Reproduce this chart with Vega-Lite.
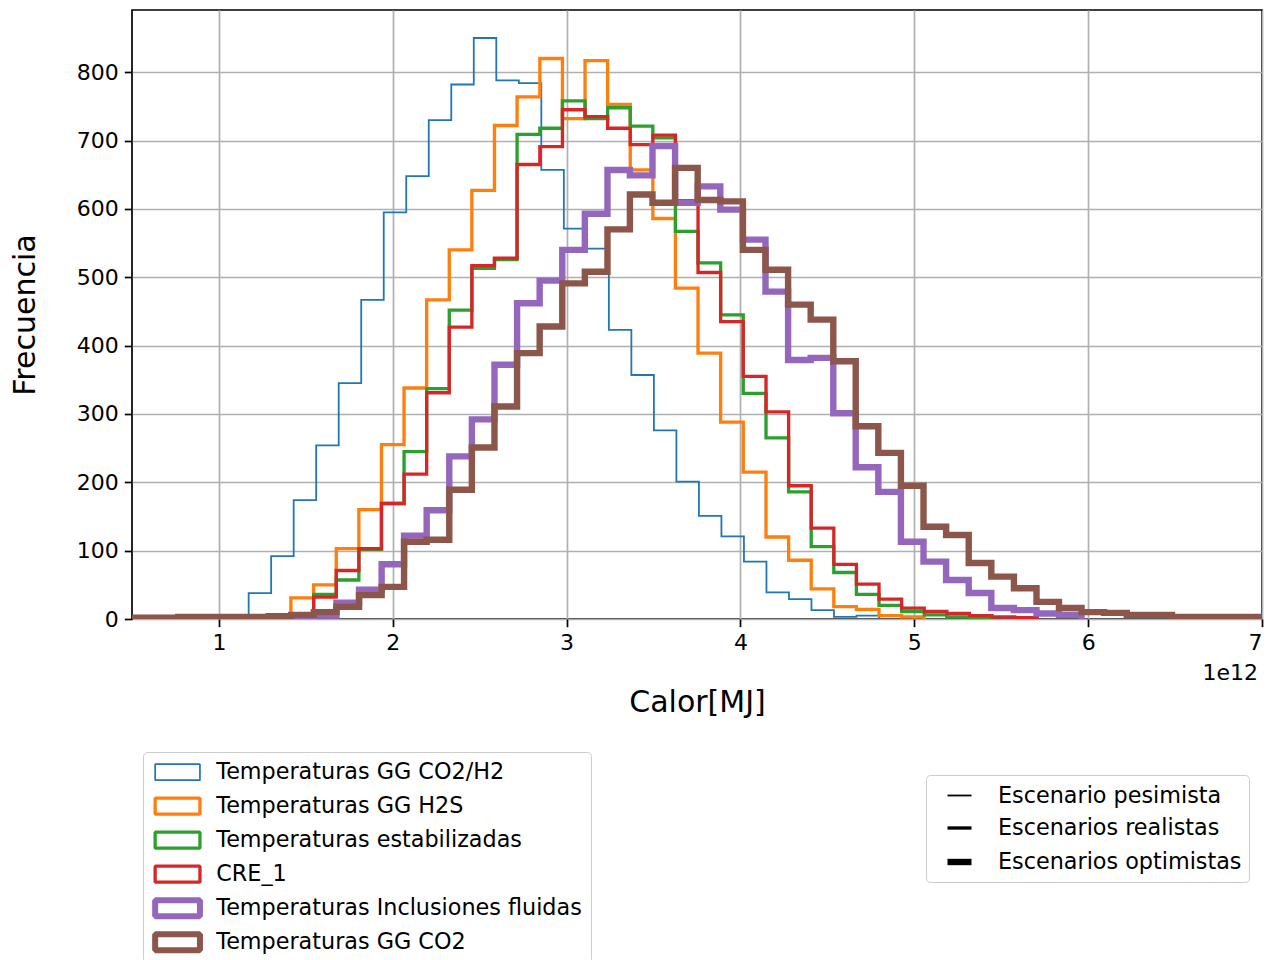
{
  "$schema": "https://vega.github.io/schema/vega-lite/v6.json",
  "width": 1130,
  "height": 609,
  "autosize": {"type": "none"},
  "padding": {"left": 132, "top": 10, "right": 14, "bottom": 341},
  "background": "white",
  "config": {
    "font": "DejaVu Sans",
    "view": {"stroke": "#000000", "strokeWidth": 1.7},
    "axis": {
      "labelFont": "DejaVu Sans", "labelFontSize": 22, "labelColor": "#000000",
      "tickColor": "#000000", "tickSize": 7.7, "tickWidth": 1.7, "labelPadding": 6,
      "domain": false, "grid": true, "gridColor": "#b0b0b0", "gridWidth": 1.7,
      "titleFont": "DejaVu Sans", "titleFontSize": 30, "titleFontWeight": "normal", "titleColor": "#000000"
    },
    "legend": {"labelFont": "DejaVu Sans", "labelColor": "#000000"}
  },
  "datasets": {
    "escenarios": [
      {"serie": "Temperaturas GG CO2/H2", "escenario": "Escenario pesimista"},
      {"serie": "Temperaturas GG H2S", "escenario": "Escenarios realistas"},
      {"serie": "Temperaturas estabilizadas", "escenario": "Escenarios realistas"},
      {"serie": "CRE_1", "escenario": "Escenarios realistas"},
      {"serie": "Temperaturas Inclusiones fluidas", "escenario": "Escenarios optimistas"},
      {"serie": "Temperaturas GG CO2", "escenario": "Escenarios optimistas"}
    ]
  },
  "layer": [
    {
      "data": {"values": [
        {"serie": "Temperaturas GG CO2/H2", "calor": 1.171, "frecuencia": 0},
        {"serie": "Temperaturas GG CO2/H2", "calor": 1.171, "frecuencia": 38},
        {"serie": "Temperaturas GG CO2/H2", "calor": 1.3005, "frecuencia": 92},
        {"serie": "Temperaturas GG CO2/H2", "calor": 1.43, "frecuencia": 174},
        {"serie": "Temperaturas GG CO2/H2", "calor": 1.5595, "frecuencia": 254},
        {"serie": "Temperaturas GG CO2/H2", "calor": 1.689, "frecuencia": 345},
        {"serie": "Temperaturas GG CO2/H2", "calor": 1.8185, "frecuencia": 467},
        {"serie": "Temperaturas GG CO2/H2", "calor": 1.948, "frecuencia": 595},
        {"serie": "Temperaturas GG CO2/H2", "calor": 2.0775, "frecuencia": 648},
        {"serie": "Temperaturas GG CO2/H2", "calor": 2.207, "frecuencia": 730},
        {"serie": "Temperaturas GG CO2/H2", "calor": 2.3365, "frecuencia": 782},
        {"serie": "Temperaturas GG CO2/H2", "calor": 2.466, "frecuencia": 850},
        {"serie": "Temperaturas GG CO2/H2", "calor": 2.5955, "frecuencia": 788},
        {"serie": "Temperaturas GG CO2/H2", "calor": 2.725, "frecuencia": 784},
        {"serie": "Temperaturas GG CO2/H2", "calor": 2.8545, "frecuencia": 657},
        {"serie": "Temperaturas GG CO2/H2", "calor": 2.984, "frecuencia": 571},
        {"serie": "Temperaturas GG CO2/H2", "calor": 3.1135, "frecuencia": 542},
        {"serie": "Temperaturas GG CO2/H2", "calor": 3.243, "frecuencia": 423},
        {"serie": "Temperaturas GG CO2/H2", "calor": 3.3725, "frecuencia": 357},
        {"serie": "Temperaturas GG CO2/H2", "calor": 3.502, "frecuencia": 276},
        {"serie": "Temperaturas GG CO2/H2", "calor": 3.6315, "frecuencia": 201},
        {"serie": "Temperaturas GG CO2/H2", "calor": 3.761, "frecuencia": 151},
        {"serie": "Temperaturas GG CO2/H2", "calor": 3.8905, "frecuencia": 121},
        {"serie": "Temperaturas GG CO2/H2", "calor": 4.02, "frecuencia": 84},
        {"serie": "Temperaturas GG CO2/H2", "calor": 4.1495, "frecuencia": 39},
        {"serie": "Temperaturas GG CO2/H2", "calor": 4.279, "frecuencia": 29},
        {"serie": "Temperaturas GG CO2/H2", "calor": 4.4085, "frecuencia": 13},
        {"serie": "Temperaturas GG CO2/H2", "calor": 4.538, "frecuencia": 3},
        {"serie": "Temperaturas GG CO2/H2", "calor": 4.6675, "frecuencia": 5},
        {"serie": "Temperaturas GG CO2/H2", "calor": 4.797, "frecuencia": 0},

        {"serie": "Temperaturas GG H2S", "calor": 1.414, "frecuencia": 0},
        {"serie": "Temperaturas GG H2S", "calor": 1.414, "frecuencia": 31},
        {"serie": "Temperaturas GG H2S", "calor": 1.545, "frecuencia": 50},
        {"serie": "Temperaturas GG H2S", "calor": 1.675, "frecuencia": 103},
        {"serie": "Temperaturas GG H2S", "calor": 1.805, "frecuencia": 160},
        {"serie": "Temperaturas GG H2S", "calor": 1.935, "frecuencia": 255},
        {"serie": "Temperaturas GG H2S", "calor": 2.065, "frecuencia": 338},
        {"serie": "Temperaturas GG H2S", "calor": 2.195, "frecuencia": 467},
        {"serie": "Temperaturas GG H2S", "calor": 2.325, "frecuencia": 540},
        {"serie": "Temperaturas GG H2S", "calor": 2.455, "frecuencia": 627},
        {"serie": "Temperaturas GG H2S", "calor": 2.585, "frecuencia": 722},
        {"serie": "Temperaturas GG H2S", "calor": 2.715, "frecuencia": 764},
        {"serie": "Temperaturas GG H2S", "calor": 2.846, "frecuencia": 820},
        {"serie": "Temperaturas GG H2S", "calor": 2.976, "frecuencia": 732},
        {"serie": "Temperaturas GG H2S", "calor": 3.106, "frecuencia": 817},
        {"serie": "Temperaturas GG H2S", "calor": 3.236, "frecuencia": 753},
        {"serie": "Temperaturas GG H2S", "calor": 3.366, "frecuencia": 657},
        {"serie": "Temperaturas GG H2S", "calor": 3.496, "frecuencia": 586},
        {"serie": "Temperaturas GG H2S", "calor": 3.626, "frecuencia": 484},
        {"serie": "Temperaturas GG H2S", "calor": 3.756, "frecuencia": 389},
        {"serie": "Temperaturas GG H2S", "calor": 3.886, "frecuencia": 288},
        {"serie": "Temperaturas GG H2S", "calor": 4.016, "frecuencia": 215},
        {"serie": "Temperaturas GG H2S", "calor": 4.147, "frecuencia": 120},
        {"serie": "Temperaturas GG H2S", "calor": 4.277, "frecuencia": 86},
        {"serie": "Temperaturas GG H2S", "calor": 4.407, "frecuencia": 44},
        {"serie": "Temperaturas GG H2S", "calor": 4.537, "frecuencia": 18},
        {"serie": "Temperaturas GG H2S", "calor": 4.667, "frecuencia": 14},
        {"serie": "Temperaturas GG H2S", "calor": 4.797, "frecuencia": 5},
        {"serie": "Temperaturas GG H2S", "calor": 4.927, "frecuencia": 3},
        {"serie": "Temperaturas GG H2S", "calor": 5.057, "frecuencia": 0},

        {"serie": "Temperaturas estabilizadas", "calor": 1.414, "frecuencia": 0},
        {"serie": "Temperaturas estabilizadas", "calor": 1.414, "frecuencia": 5},
        {"serie": "Temperaturas estabilizadas", "calor": 1.545, "frecuencia": 36},
        {"serie": "Temperaturas estabilizadas", "calor": 1.675, "frecuencia": 57},
        {"serie": "Temperaturas estabilizadas", "calor": 1.805, "frecuencia": 102},
        {"serie": "Temperaturas estabilizadas", "calor": 1.935, "frecuencia": 169},
        {"serie": "Temperaturas estabilizadas", "calor": 2.065, "frecuencia": 245},
        {"serie": "Temperaturas estabilizadas", "calor": 2.195, "frecuencia": 337},
        {"serie": "Temperaturas estabilizadas", "calor": 2.325, "frecuencia": 452},
        {"serie": "Temperaturas estabilizadas", "calor": 2.455, "frecuencia": 513},
        {"serie": "Temperaturas estabilizadas", "calor": 2.585, "frecuencia": 526},
        {"serie": "Temperaturas estabilizadas", "calor": 2.715, "frecuencia": 709},
        {"serie": "Temperaturas estabilizadas", "calor": 2.846, "frecuencia": 718},
        {"serie": "Temperaturas estabilizadas", "calor": 2.976, "frecuencia": 758},
        {"serie": "Temperaturas estabilizadas", "calor": 3.106, "frecuencia": 732},
        {"serie": "Temperaturas estabilizadas", "calor": 3.236, "frecuencia": 748},
        {"serie": "Temperaturas estabilizadas", "calor": 3.366, "frecuencia": 721},
        {"serie": "Temperaturas estabilizadas", "calor": 3.496, "frecuencia": 704},
        {"serie": "Temperaturas estabilizadas", "calor": 3.626, "frecuencia": 567},
        {"serie": "Temperaturas estabilizadas", "calor": 3.756, "frecuencia": 521},
        {"serie": "Temperaturas estabilizadas", "calor": 3.886, "frecuencia": 445},
        {"serie": "Temperaturas estabilizadas", "calor": 4.016, "frecuencia": 330},
        {"serie": "Temperaturas estabilizadas", "calor": 4.147, "frecuencia": 265},
        {"serie": "Temperaturas estabilizadas", "calor": 4.277, "frecuencia": 186},
        {"serie": "Temperaturas estabilizadas", "calor": 4.407, "frecuencia": 106},
        {"serie": "Temperaturas estabilizadas", "calor": 4.537, "frecuencia": 68},
        {"serie": "Temperaturas estabilizadas", "calor": 4.667, "frecuencia": 36},
        {"serie": "Temperaturas estabilizadas", "calor": 4.797, "frecuencia": 20},
        {"serie": "Temperaturas estabilizadas", "calor": 4.927, "frecuencia": 11},
        {"serie": "Temperaturas estabilizadas", "calor": 5.057, "frecuencia": 6},
        {"serie": "Temperaturas estabilizadas", "calor": 5.187, "frecuencia": 3},
        {"serie": "Temperaturas estabilizadas", "calor": 5.317, "frecuencia": 1},
        {"serie": "Temperaturas estabilizadas", "calor": 5.447, "frecuencia": 0},

        {"serie": "CRE_1", "calor": 1.414, "frecuencia": 0},
        {"serie": "CRE_1", "calor": 1.414, "frecuencia": 4},
        {"serie": "CRE_1", "calor": 1.545, "frecuencia": 32},
        {"serie": "CRE_1", "calor": 1.675, "frecuencia": 71},
        {"serie": "CRE_1", "calor": 1.805, "frecuencia": 103},
        {"serie": "CRE_1", "calor": 1.935, "frecuencia": 169},
        {"serie": "CRE_1", "calor": 2.065, "frecuencia": 212},
        {"serie": "CRE_1", "calor": 2.195, "frecuencia": 331},
        {"serie": "CRE_1", "calor": 2.325, "frecuencia": 427},
        {"serie": "CRE_1", "calor": 2.455, "frecuencia": 517},
        {"serie": "CRE_1", "calor": 2.585, "frecuencia": 528},
        {"serie": "CRE_1", "calor": 2.715, "frecuencia": 665},
        {"serie": "CRE_1", "calor": 2.846, "frecuencia": 691},
        {"serie": "CRE_1", "calor": 2.976, "frecuencia": 745},
        {"serie": "CRE_1", "calor": 3.106, "frecuencia": 735},
        {"serie": "CRE_1", "calor": 3.236, "frecuencia": 718},
        {"serie": "CRE_1", "calor": 3.366, "frecuencia": 694},
        {"serie": "CRE_1", "calor": 3.496, "frecuencia": 708},
        {"serie": "CRE_1", "calor": 3.626, "frecuencia": 612},
        {"serie": "CRE_1", "calor": 3.756, "frecuencia": 507},
        {"serie": "CRE_1", "calor": 3.886, "frecuencia": 435},
        {"serie": "CRE_1", "calor": 4.016, "frecuencia": 355},
        {"serie": "CRE_1", "calor": 4.147, "frecuencia": 303},
        {"serie": "CRE_1", "calor": 4.277, "frecuencia": 195},
        {"serie": "CRE_1", "calor": 4.407, "frecuencia": 133},
        {"serie": "CRE_1", "calor": 4.537, "frecuencia": 80},
        {"serie": "CRE_1", "calor": 4.667, "frecuencia": 51},
        {"serie": "CRE_1", "calor": 4.797, "frecuencia": 29},
        {"serie": "CRE_1", "calor": 4.927, "frecuencia": 16},
        {"serie": "CRE_1", "calor": 5.057, "frecuencia": 11},
        {"serie": "CRE_1", "calor": 5.187, "frecuencia": 8},
        {"serie": "CRE_1", "calor": 5.317, "frecuencia": 5},
        {"serie": "CRE_1", "calor": 5.447, "frecuencia": 3},
        {"serie": "CRE_1", "calor": 5.578, "frecuencia": 2},
        {"serie": "CRE_1", "calor": 5.708, "frecuencia": 0},

        {"serie": "Temperaturas Inclusiones fluidas", "calor": 1.416, "frecuencia": 0},
        {"serie": "Temperaturas Inclusiones fluidas", "calor": 1.416, "frecuencia": 2},
        {"serie": "Temperaturas Inclusiones fluidas", "calor": 1.546, "frecuencia": 5},
        {"serie": "Temperaturas Inclusiones fluidas", "calor": 1.676, "frecuencia": 24},
        {"serie": "Temperaturas Inclusiones fluidas", "calor": 1.806, "frecuencia": 43},
        {"serie": "Temperaturas Inclusiones fluidas", "calor": 1.936, "frecuencia": 80},
        {"serie": "Temperaturas Inclusiones fluidas", "calor": 2.065, "frecuencia": 122},
        {"serie": "Temperaturas Inclusiones fluidas", "calor": 2.195, "frecuencia": 159},
        {"serie": "Temperaturas Inclusiones fluidas", "calor": 2.325, "frecuencia": 238},
        {"serie": "Temperaturas Inclusiones fluidas", "calor": 2.455, "frecuencia": 292},
        {"serie": "Temperaturas Inclusiones fluidas", "calor": 2.585, "frecuencia": 372},
        {"serie": "Temperaturas Inclusiones fluidas", "calor": 2.715, "frecuencia": 462},
        {"serie": "Temperaturas Inclusiones fluidas", "calor": 2.845, "frecuencia": 495},
        {"serie": "Temperaturas Inclusiones fluidas", "calor": 2.975, "frecuencia": 540},
        {"serie": "Temperaturas Inclusiones fluidas", "calor": 3.105, "frecuencia": 593},
        {"serie": "Temperaturas Inclusiones fluidas", "calor": 3.235, "frecuencia": 657},
        {"serie": "Temperaturas Inclusiones fluidas", "calor": 3.364, "frecuencia": 649},
        {"serie": "Temperaturas Inclusiones fluidas", "calor": 3.494, "frecuencia": 692},
        {"serie": "Temperaturas Inclusiones fluidas", "calor": 3.624, "frecuencia": 609},
        {"serie": "Temperaturas Inclusiones fluidas", "calor": 3.754, "frecuencia": 633},
        {"serie": "Temperaturas Inclusiones fluidas", "calor": 3.884, "frecuencia": 599},
        {"serie": "Temperaturas Inclusiones fluidas", "calor": 4.014, "frecuencia": 555},
        {"serie": "Temperaturas Inclusiones fluidas", "calor": 4.144, "frecuencia": 479},
        {"serie": "Temperaturas Inclusiones fluidas", "calor": 4.274, "frecuencia": 379},
        {"serie": "Temperaturas Inclusiones fluidas", "calor": 4.404, "frecuencia": 382},
        {"serie": "Temperaturas Inclusiones fluidas", "calor": 4.534, "frecuencia": 301},
        {"serie": "Temperaturas Inclusiones fluidas", "calor": 4.663, "frecuencia": 222},
        {"serie": "Temperaturas Inclusiones fluidas", "calor": 4.793, "frecuencia": 186},
        {"serie": "Temperaturas Inclusiones fluidas", "calor": 4.923, "frecuencia": 113},
        {"serie": "Temperaturas Inclusiones fluidas", "calor": 5.053, "frecuencia": 84},
        {"serie": "Temperaturas Inclusiones fluidas", "calor": 5.183, "frecuencia": 57},
        {"serie": "Temperaturas Inclusiones fluidas", "calor": 5.313, "frecuencia": 38},
        {"serie": "Temperaturas Inclusiones fluidas", "calor": 5.443, "frecuencia": 16},
        {"serie": "Temperaturas Inclusiones fluidas", "calor": 5.573, "frecuencia": 13},
        {"serie": "Temperaturas Inclusiones fluidas", "calor": 5.703, "frecuencia": 8},
        {"serie": "Temperaturas Inclusiones fluidas", "calor": 5.832, "frecuencia": 6},
        {"serie": "Temperaturas Inclusiones fluidas", "calor": 5.962, "frecuencia": 0},

        {"serie": "Temperaturas GG CO2", "calor": 0.377, "frecuencia": 0},
        {"serie": "Temperaturas GG CO2", "calor": 0.377, "frecuencia": 2},
        {"serie": "Temperaturas GG CO2", "calor": 0.507, "frecuencia": 2},
        {"serie": "Temperaturas GG CO2", "calor": 0.637, "frecuencia": 2},
        {"serie": "Temperaturas GG CO2", "calor": 0.766, "frecuencia": 3},
        {"serie": "Temperaturas GG CO2", "calor": 0.896, "frecuencia": 3},
        {"serie": "Temperaturas GG CO2", "calor": 1.026, "frecuencia": 3},
        {"serie": "Temperaturas GG CO2", "calor": 1.156, "frecuencia": 3},
        {"serie": "Temperaturas GG CO2", "calor": 1.286, "frecuencia": 4},
        {"serie": "Temperaturas GG CO2", "calor": 1.416, "frecuencia": 6},
        {"serie": "Temperaturas GG CO2", "calor": 1.546, "frecuencia": 10},
        {"serie": "Temperaturas GG CO2", "calor": 1.676, "frecuencia": 18},
        {"serie": "Temperaturas GG CO2", "calor": 1.806, "frecuencia": 35},
        {"serie": "Temperaturas GG CO2", "calor": 1.936, "frecuencia": 47},
        {"serie": "Temperaturas GG CO2", "calor": 2.065, "frecuencia": 113},
        {"serie": "Temperaturas GG CO2", "calor": 2.195, "frecuencia": 116},
        {"serie": "Temperaturas GG CO2", "calor": 2.325, "frecuencia": 189},
        {"serie": "Temperaturas GG CO2", "calor": 2.455, "frecuencia": 251},
        {"serie": "Temperaturas GG CO2", "calor": 2.585, "frecuencia": 311},
        {"serie": "Temperaturas GG CO2", "calor": 2.715, "frecuencia": 389},
        {"serie": "Temperaturas GG CO2", "calor": 2.845, "frecuencia": 428},
        {"serie": "Temperaturas GG CO2", "calor": 2.975, "frecuencia": 491},
        {"serie": "Temperaturas GG CO2", "calor": 3.105, "frecuencia": 508},
        {"serie": "Temperaturas GG CO2", "calor": 3.235, "frecuencia": 570},
        {"serie": "Temperaturas GG CO2", "calor": 3.364, "frecuencia": 621},
        {"serie": "Temperaturas GG CO2", "calor": 3.494, "frecuencia": 609},
        {"serie": "Temperaturas GG CO2", "calor": 3.624, "frecuencia": 660},
        {"serie": "Temperaturas GG CO2", "calor": 3.754, "frecuencia": 613},
        {"serie": "Temperaturas GG CO2", "calor": 3.884, "frecuencia": 611},
        {"serie": "Temperaturas GG CO2", "calor": 4.014, "frecuencia": 540},
        {"serie": "Temperaturas GG CO2", "calor": 4.144, "frecuencia": 511},
        {"serie": "Temperaturas GG CO2", "calor": 4.274, "frecuencia": 460},
        {"serie": "Temperaturas GG CO2", "calor": 4.404, "frecuencia": 438},
        {"serie": "Temperaturas GG CO2", "calor": 4.534, "frecuencia": 377},
        {"serie": "Temperaturas GG CO2", "calor": 4.663, "frecuencia": 282},
        {"serie": "Temperaturas GG CO2", "calor": 4.793, "frecuencia": 243},
        {"serie": "Temperaturas GG CO2", "calor": 4.923, "frecuencia": 195},
        {"serie": "Temperaturas GG CO2", "calor": 5.053, "frecuencia": 135},
        {"serie": "Temperaturas GG CO2", "calor": 5.183, "frecuencia": 123},
        {"serie": "Temperaturas GG CO2", "calor": 5.313, "frecuencia": 82},
        {"serie": "Temperaturas GG CO2", "calor": 5.443, "frecuencia": 62},
        {"serie": "Temperaturas GG CO2", "calor": 5.573, "frecuencia": 45},
        {"serie": "Temperaturas GG CO2", "calor": 5.703, "frecuencia": 25},
        {"serie": "Temperaturas GG CO2", "calor": 5.832, "frecuencia": 16},
        {"serie": "Temperaturas GG CO2", "calor": 5.962, "frecuencia": 10},
        {"serie": "Temperaturas GG CO2", "calor": 6.092, "frecuencia": 9},
        {"serie": "Temperaturas GG CO2", "calor": 6.222, "frecuencia": 6},
        {"serie": "Temperaturas GG CO2", "calor": 6.352, "frecuencia": 6},
        {"serie": "Temperaturas GG CO2", "calor": 6.482, "frecuencia": 3},
        {"serie": "Temperaturas GG CO2", "calor": 6.612, "frecuencia": 3},
        {"serie": "Temperaturas GG CO2", "calor": 6.742, "frecuencia": 3},
        {"serie": "Temperaturas GG CO2", "calor": 6.872, "frecuencia": 3},
        {"serie": "Temperaturas GG CO2", "calor": 7.002, "frecuencia": 0}
      ]},
      "transform": [
        {"lookup": "serie", "from": {"data": {"name": "escenarios"}, "key": "serie", "fields": ["escenario"]}}
      ],
      "mark": {"type": "line", "interpolate": "step-after", "clip": true, "strokeJoin": "miter", "strokeCap": "butt"},
      "encoding": {
        "x": {
          "field": "calor", "type": "quantitative",
          "scale": {"domain": [0.5, 7], "nice": false, "zero": false},
          "axis": {"values": [1, 2, 3, 4, 5, 6, 7], "format": "d", "title": "Calor[MJ]", "titleY": 83, "titleBaseline": "middle"}
        },
        "y": {
          "field": "frecuencia", "type": "quantitative",
          "scale": {"domain": [0, 891], "nice": false},
          "axis": {"values": [0, 100, 200, 300, 400, 500, 600, 700, 800], "title": "Frecuencia", "titleX": -107, "titleY": 304.5, "titleAngle": -90, "titleBaseline": "middle", "titleAlign": "center"}
        },
        "color": {
          "field": "serie", "type": "nominal",
          "scale": {
            "domain": ["Temperaturas GG CO2/H2", "Temperaturas GG H2S", "Temperaturas estabilizadas", "CRE_1", "Temperaturas Inclusiones fluidas", "Temperaturas GG CO2"],
            "range": ["#1f77b4", "#ff7f0e", "#2ca02c", "#d62728", "#9467bd", "#8c564b"]
          },
          "legend": {
            "orient": "none", "legendX": 11, "legendY": 742, "title": null,
            "symbolType": "M-1,-1H4.6V1H-1Z", "symbolSize": 256,
            "labelFontSize": 22.3, "labelOffset": 42, "labelLimit": 800,
            "rowPadding": 11, "padding": 9,
            "strokeColor": "#cccccc", "fillColor": "white", "cornerRadius": 4,
            "encode": {"symbols": {"update": {
              "fill": {"value": "white"},
              "strokeJoin": {"value": "bevel"},
              "strokeWidth": {"signal": "datum.value === 'Temperaturas GG CO2/H2' ? 1.7 : ((datum.value === 'Temperaturas Inclusiones fluidas' || datum.value === 'Temperaturas GG CO2') ? 6 : 3.3)"}
            }}}
          }
        },
        "strokeWidth": {
          "field": "escenario", "type": "ordinal",
          "scale": {"type": "point", "padding": 0, "domain": ["Escenario pesimista", "Escenarios realistas", "·", "Escenarios optimistas"], "range": [1.8, 6.4]},
          "legend": {
            "orient": "none", "legendX": 794, "legendY": 765, "title": null,
            "values": ["Escenario pesimista", "Escenarios realistas", "Escenarios optimistas"],
            "symbolType": "M-0.12,0H1.8", "symbolSize": 625,
            "labelFontSize": 22.3, "labelOffset": 33, "labelLimit": 800,
            "rowPadding": 6.5, "padding": 7,
            "strokeColor": "#cccccc", "fillColor": "white", "cornerRadius": 4,
            "encode": {"symbols": {"update": {
              "stroke": {"value": "black"},
              "fill": {"value": "transparent"},
              "strokeWidth": {"signal": "datum.value === 'Escenarios optimistas' ? 4.5 : (datum.value === 'Escenarios realistas' ? 3 : 1.5)"}
            }}}
          }
        }
      }
    },
    {
      "data": {"values": [{"t": "1e12"}]},
      "mark": {"type": "text", "align": "right", "baseline": "middle", "dy": 54, "dx": -4, "fontSize": 22, "font": "DejaVu Sans", "color": "#000000"},
      "encoding": {
        "x": {"datum": 7, "type": "quantitative"},
        "y": {"datum": 0, "type": "quantitative"},
        "text": {"field": "t"}
      }
    }
  ]
}
